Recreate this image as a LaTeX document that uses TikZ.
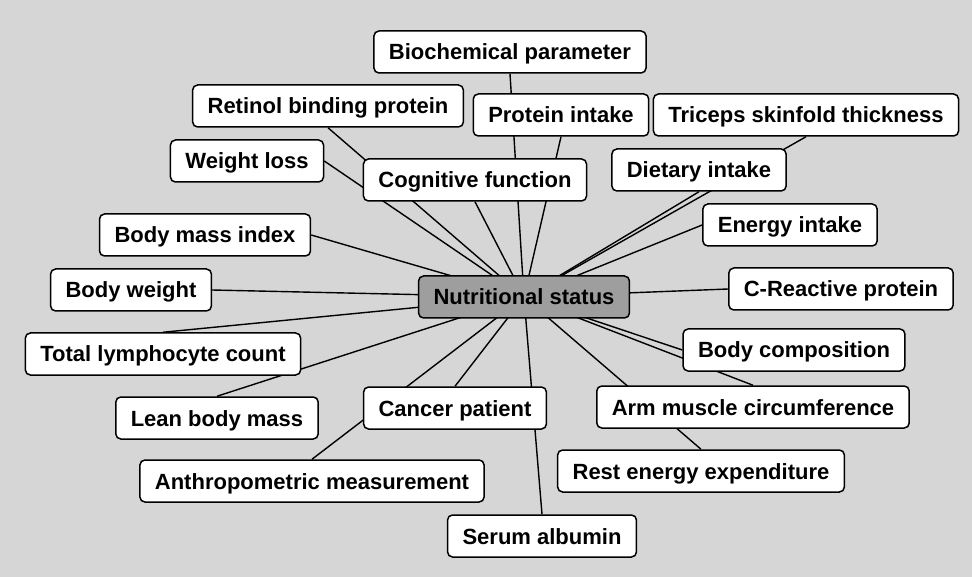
\documentclass[tikz,border=0pt]{standalone}
\usepackage{fontspec}
\setmainfont{Liberation Sans}
\usepackage{tikz}
\usetikzlibrary{shapes.geometric, positioning}
\usepackage{xcolor}
\definecolor{paper}{gray}{0.84}
\definecolor{hubgray}{gray}{0.62}
\pgfdeclarelayer{bg}
\pgfdeclarelayer{links}
\pgfsetlayers{bg,links,main}
\tikzset{
    concept/.style={rectangle, draw=black, line width=1.5pt, fill=white, rounded corners=5pt, text centered, minimum height=42pt, inner xsep=15pt, text height=16pt, text depth=0pt, font=\fontsize{22}{26}\selectfont\bfseries},
    hub/.style={concept, fill=hubgray},
    link/.style={line width=1.4pt, black}
}

\begin{document}
\begin{tikzpicture}[x=1pt, y=-1pt]
    \useasboundingbox (0,0) rectangle (972,577);
    \begin{pgfonlayer}{bg}
        \fill[paper] (0,0) rectangle (972,577);
    \end{pgfonlayer}

    % Central node
    \node (ns) [hub] at (524,297) {Nutritional status};

    % Upper nodes
    \node (bio) [concept] at (510,52) {Biochemical parameter};
    \node (rbp) [concept] at (328,106) {Retinol binding protein};
    \node (pin) [concept] at (561,115) {Protein intake};
    \node (tst) [concept] at (806,115) {Triceps skinfold thickness};
    \node (wl) [concept] at (247,161) {Weight loss};
    \node (cog) [concept] at (475,180) {Cognitive function};
    \node (die) [concept] at (699,170) {Dietary intake};
    \node (ein) [concept] at (790,225) {Energy intake};
    \node (bmi) [concept] at (205,235) {Body mass index};
    \node (bw) [concept] at (131,290) {Body weight};
    \node (crp) [concept] at (841,289) {C-Reactive protein};

    % Lower nodes
    \node (tlc) [concept] at (163,354) {Total lymphocyte count};
    \node (bc) [concept] at (794,350) {Body composition};
    \node (lbm) [concept] at (217,418) {Lean body mass};
    \node (cp) [concept] at (455,408) {Cancer patient};
    \node (amc) [concept] at (753,407) {Arm muscle circumference};
    \node (am) [concept] at (312,481) {Anthropometric measurement};
    \node (ree) [concept] at (701,471) {Rest energy expenditure};
    \node (sa) [concept] at (542,536) {Serum albumin};

    % Links from the central node
    \begin{pgfonlayer}{links}
        \draw [link] (ns.center) -- (bio.south);
        \draw [link] (ns.center) -- (rbp.south);
        \draw [link] (ns.center) -- (pin.south);
        \draw [link] (ns.center) -- (tst.south);
        \draw [link] (ns.center) -- (wl.east);
        \draw [link] (ns.center) -- (cog.south);
        \draw [link] (ns.center) -- (die.south);
        \draw [link] (ns.center) -- (ein.west);
        \draw [link] (ns.center) -- (bmi.east);
        \draw [link] (ns.center) -- (bw.east);
        \draw [link] (ns.center) -- (crp.west);
        \draw [link] (ns.center) -- (tlc.north);
        \draw [link] (ns.center) -- (bc.west);
        \draw [link] (ns.center) -- (lbm.north);
        \draw [link] (ns.center) -- (cp.north);
        \draw [link] (ns.center) -- (amc.north);
        \draw [link] (ns.center) -- (am.north);
        \draw [link] (ns.center) -- (ree.north);
        \draw [link] (ns.center) -- (sa.north);
    \end{pgfonlayer}
\end{tikzpicture}
\end{document}
